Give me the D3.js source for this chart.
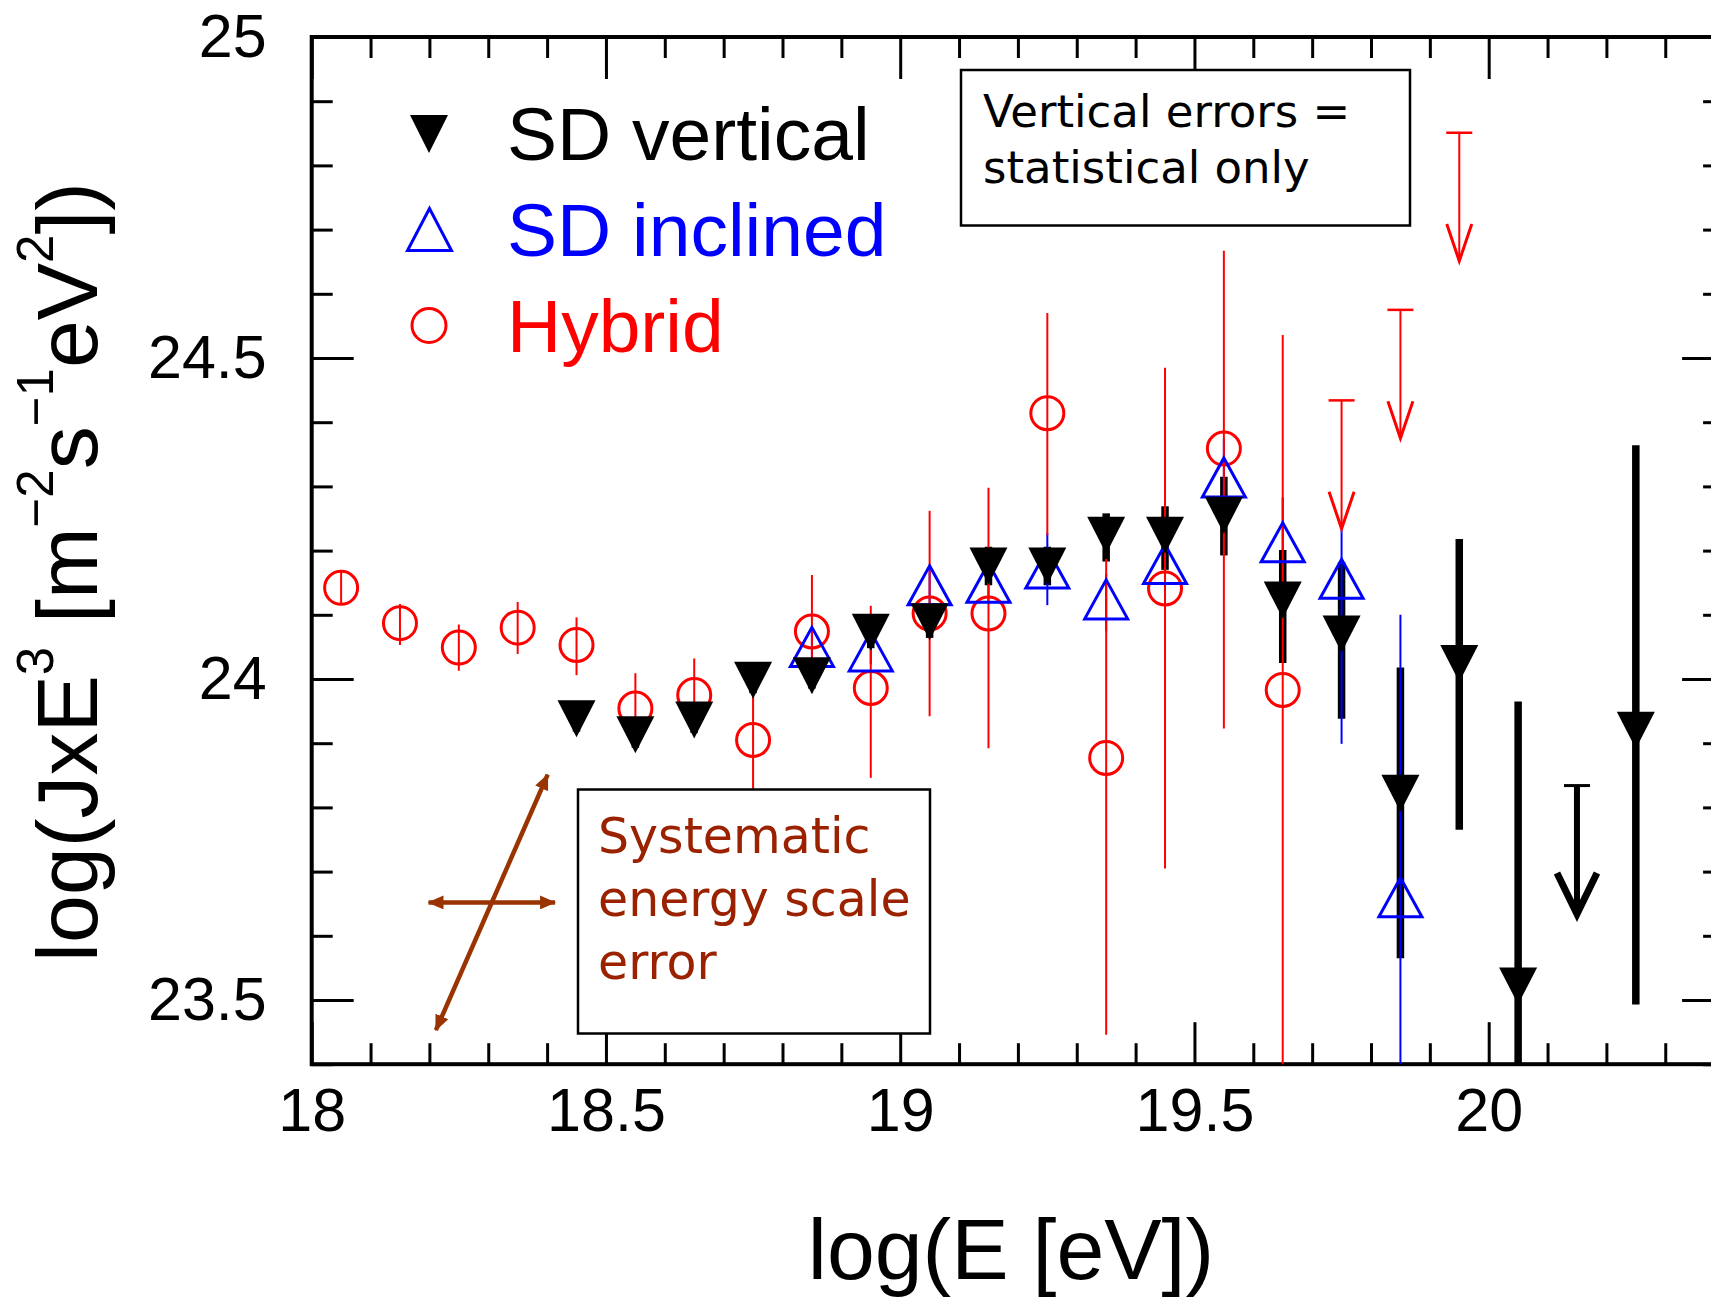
<!DOCTYPE html>
<html>
<head>
<meta charset="utf-8">
<script src="https://cdn.jsdelivr.net/npm/d3@7"></script>
<style>
  html, body { margin: 0; padding: 0; background: #fff; overflow: hidden; }
  svg { display: block; }
</style>
</head>
<body>
<svg id="chart" width="1711" height="1300"></svg>
<script>
// ---- Flux spectrum data: log10(J x E^3) versus log10(E / eV) ----

// SD vertical (filled down triangles, thick black bars)
const sdVertE     = [18.45, 18.55, 18.65, 18.75, 18.85, 18.95, 19.05, 19.15, 19.25, 19.35, 19.45, 19.55, 19.65, 19.75, 19.85, 19.95, 20.05, 20.25];
const sdVertFlux  = [23.938, 23.913, 23.936, 23.998, 24.005, 24.073, 24.089, 24.176, 24.176, 24.224, 24.224, 24.255, 24.123, 24.070, 23.822, 24.024, 23.522, 23.920];
const sdVertErrUp = [0.02, 0.02, 0.02, 0.02, 0.02, 0.025, 0.025, 0.03, 0.03, 0.034, 0.045, 0.06, 0.078, 0.112, 0.196, 0.194, 0.443, 0.444];
const sdVertErrLo = [0.02, 0.02, 0.02, 0.02, 0.02, 0.025, 0.025, 0.03, 0.03, 0.041, 0.054, 0.0625, 0.098, 0.132, 0.257, 0.259, 0.60, 0.427];
const sdVertLimitE    = [20.15];
const sdVertLimitFlux = [23.834];

// SD inclined (open up triangles, thin blue bars)
const sdInclE     = [18.85, 18.95, 19.05, 19.15, 19.25, 19.35, 19.45, 19.55, 19.65, 19.75, 19.85];
const sdInclFlux  = [24.050, 24.043, 24.146, 24.150, 24.172, 24.124, 24.179, 24.314, 24.213, 24.156, 23.660];
const sdInclErrUp = [0.02, 0.02, 0.03, 0.03, 0.055, 0.04, 0.05, 0.06, 0.07, 0.076, 0.44];
const sdInclErrLo = [0.02, 0.02, 0.03, 0.03, 0.057, 0.05, 0.06, 0.07, 0.08, 0.257, 0.60];

// Hybrid (open circles, thin red bars)
const hybE     = [18.05, 18.15, 18.25, 18.35, 18.45, 18.55, 18.65, 18.75, 18.85, 18.95, 19.05, 19.15, 19.25, 19.35, 19.45, 19.55, 19.65];
const hybFlux  = [24.142, 24.087, 24.049, 24.080, 24.053, 23.954, 23.975, 23.905, 24.074, 23.986, 24.102, 24.102, 24.414, 23.877, 24.141, 24.359, 23.983];
const hybErrUp = [0.025, 0.03, 0.036, 0.04, 0.043, 0.055, 0.057, 0.08, 0.088, 0.128, 0.16, 0.196, 0.156, 0.31, 0.344, 0.308, 0.553];
const hybErrLo = [0.025, 0.034, 0.036, 0.041, 0.047, 0.06, 0.06, 0.09, 0.095, 0.14, 0.16, 0.21, 0.19, 0.431, 0.436, 0.436, 0.90];
const hybLimitE    = [19.75, 19.85, 19.95];
const hybLimitFlux = [24.434, 24.575, 24.851];

// Upper-limit arrow length, in log units
const limitArrowLen = 0.2;

// Systematic energy-scale error cross (centre, horizontal half-span, tilted half-span)
const sysCentre = [18.306, 23.652];
const sysHorizHalf = 0.1075;
const sysDiagHalf = [0.095, 0.199];

// Axes
const xDomain = [18, 20.4];
const yDomain = [23.4, 25];
const xMajorTicks = [18, 18.5, 19, 19.5, 20];
const yMajorTicks = [23.5, 24, 24.5, 25];
const xMinorTicks = d3.range(181, 205).map(v => v / 10).filter(v => !xMajorTicks.some(m => Math.abs(m - v) < 1e-9));
const yMinorTicks = d3.range(234, 251).map(v => v / 10).filter(v => !yMajorTicks.some(m => Math.abs(m - v) < 1e-9));

// Legend entries
const legendLabels = ["SD vertical", "SD inclined", "Hybrid"];
const legendColors = ["#000000", "#0000ff", "#ff0000"];

// ---- Drawing ----
const FONT = "'Liberation Sans', Arial, Helvetica, sans-serif";
const HAND = "'Comic Sans MS', 'DejaVu Sans', sans-serif";
const svg = d3.select("#chart");

const x = d3.scaleLinear().domain(xDomain).range([311.7, 1724.1]);
const y = d3.scaleLinear().domain(yDomain).range([1064.2, 37]);
const [x0, x1] = x.range();
const [y1, y0] = y.range();

svg.append("rect").attr("width", 1711).attr("height", 1300).attr("fill", "#fff");

const defs = svg.append("defs");
defs.append("clipPath").attr("id", "plotclip")
  .append("rect").attr("x", x0).attr("y", y0).attr("width", x1 - x0).attr("height", y1 - y0);

// Tick marks (inward), all four sides
function styleAxis(g, withLabels) {
  g.attr("font-family", FONT).attr("font-size", 61);
  g.select(".domain").remove();
  g.selectAll(".tick line").attr("stroke", "#000").attr("stroke-width", 3);
  if (withLabels) g.selectAll(".tick text").attr("fill", "#000");
}
const fmt = d => String(d);

svg.append("g").attr("transform", `translate(0,${y1})`)
  .call(d3.axisBottom(x).tickValues(xMinorTicks).tickSize(-21).tickFormat(""))
  .call(g => styleAxis(g, false));
svg.append("g").attr("transform", `translate(0,${y1})`)
  .call(d3.axisBottom(x).tickValues(xMajorTicks).tickSize(-42).tickSizeOuter(0).tickPadding(24).tickFormat(fmt))
  .call(g => styleAxis(g, true));
svg.append("g").attr("transform", `translate(0,${y0})`)
  .call(d3.axisTop(x).tickValues(xMinorTicks).tickSize(-21).tickFormat(""))
  .call(g => styleAxis(g, false));
svg.append("g").attr("transform", `translate(0,${y0})`)
  .call(d3.axisTop(x).tickValues(xMajorTicks).tickSize(-42).tickFormat(""))
  .call(g => styleAxis(g, false));

svg.append("g").attr("transform", `translate(${x0},0)`)
  .call(d3.axisLeft(y).tickValues(yMinorTicks).tickSize(-21).tickFormat(""))
  .call(g => styleAxis(g, false));
svg.append("g").attr("transform", `translate(${x0},0)`)
  .call(d3.axisLeft(y).tickValues(yMajorTicks).tickSize(-42).tickPadding(45).tickFormat(fmt))
  .call(g => styleAxis(g, true));
svg.append("g").attr("transform", `translate(${x1},0)`)
  .call(d3.axisRight(y).tickValues(yMinorTicks).tickSize(-21).tickFormat(""))
  .call(g => styleAxis(g, false));
svg.append("g").attr("transform", `translate(${x1},0)`)
  .call(d3.axisRight(y).tickValues(yMajorTicks).tickSize(-42).tickFormat(""))
  .call(g => styleAxis(g, false));

// Frame
svg.append("rect").attr("x", x0).attr("y", y0).attr("width", x1 - x0).attr("height", y1 - y0)
  .attr("fill", "none").attr("stroke", "#000").attr("stroke-width", 4);

// Axis titles
svg.append("text")
  .attr("x", 1011).attr("y", 1279)
  .attr("text-anchor", "middle")
  .attr("font-family", FONT).attr("font-size", 86).attr("fill", "#000")
  .text("log(E [eV])");

const yTitle = svg.append("text")
  .attr("transform", "translate(97,962) rotate(-90)")
  .attr("font-family", FONT).attr("font-size", 86).attr("fill", "#000");
const SUP = 51, RISE = 44;
[["log(JxE", false], ["3", true], [" [m", false], ["\u22122", true], ["s", false],
 ["\u22121", true], ["eV", false], ["2", true], ["])", false]].forEach(([t, sup], i, arr) => {
  const prevSup = i > 0 && arr[i - 1][1];
  const ts = yTitle.append("tspan").text(t);
  if (sup) ts.attr("font-size", SUP).attr("dy", -RISE);
  else if (prevSup) ts.attr("dy", RISE);
});

// Data layer
const plot = svg.append("g").attr("clip-path", "url(#plotclip)");

function rows(E, F, up, lo) {
  return E.map((e, i) => ({ e, f: F[i], up: up[i], lo: lo[i] }));
}
const sdVert = rows(sdVertE, sdVertFlux, sdVertErrUp, sdVertErrLo);
const sdIncl = rows(sdInclE, sdInclFlux, sdInclErrUp, sdInclErrLo);
const hyb = rows(hybE, hybFlux, hybErrUp, hybErrLo);

function errorBars(data, color, width) {
  plot.append("g").selectAll("line").data(data).join("line")
    .attr("x1", d => x(d.e)).attr("x2", d => x(d.e))
    .attr("y1", d => y(d.f + d.up)).attr("y2", d => y(d.f - d.lo))
    .attr("stroke", color).attr("stroke-width", width);
}
errorBars(sdVert, "#000", 7.5);
errorBars(sdIncl, "#0000ff", 2);
errorBars(hyb, "#ff0000", 2);

// Marker shapes
const triDown = (w, h) => `M${-w / 2},${-h / 2}L${w / 2},${-h / 2}L0,${h / 2}Z`;
const triUp = (w, h) => `M0,${-h / 2}L${w / 2},${h / 2}L${-w / 2},${h / 2}Z`;

plot.append("g").selectAll("circle").data(hyb).join("circle")
  .attr("cx", d => x(d.e)).attr("cy", d => y(d.f)).attr("r", 16.5)
  .attr("fill", "none").attr("stroke", "#ff0000").attr("stroke-width", 3);

plot.append("g").selectAll("path").data(sdIncl).join("path")
  .attr("transform", d => `translate(${x(d.e)},${y(d.f)})`)
  .attr("d", triUp(43, 39))
  .attr("fill", "none").attr("stroke", "#0000ff").attr("stroke-width", 3).attr("stroke-linejoin", "miter");

plot.append("g").selectAll("path").data(sdVert).join("path")
  .attr("transform", d => `translate(${x(d.e)},${y(d.f)})`)
  .attr("d", triDown(38, 37))
  .attr("fill", "#000");

// Upper limits: cap at the limit, arrow pointing down
function upperLimits(E, F, color, lw, capW, capLw, headHalf, headLen) {
  const g = plot.append("g").attr("stroke", color).attr("fill", "none");
  E.forEach((e, i) => {
    const cx = x(e), top = y(F[i]), tip = y(F[i] - limitArrowLen);
    g.append("line").attr("x1", cx).attr("x2", cx).attr("y1", top).attr("y2", tip).attr("stroke-width", lw);
    g.append("line").attr("x1", cx - capW / 2).attr("x2", cx + capW / 2).attr("y1", top).attr("y2", top).attr("stroke-width", capLw);
    g.append("path").attr("d", `M${cx - headHalf},${tip - headLen}L${cx},${tip}L${cx + headHalf},${tip - headLen}`)
      .attr("stroke-width", lw + 1).attr("stroke-linejoin", "miter");
  });
}
upperLimits(hybLimitE, hybLimitFlux, "#ff0000", 2, 26, 2.5, 12.5, 37);
upperLimits(sdVertLimitE, sdVertLimitFlux, "#000", 6, 26, 3, 20, 41);

// Systematic energy-scale error cross
const SYS_COLOR = "#993300";
defs.append("marker").attr("id", "sysHead")
  .attr("viewBox", "0 0 16 14").attr("refX", 15).attr("refY", 7)
  .attr("markerWidth", 16).attr("markerHeight", 14).attr("markerUnits", "userSpaceOnUse")
  .attr("orient", "auto-start-reverse")
  .append("path").attr("d", "M0,0L16,7L0,14Z").attr("fill", SYS_COLOR);
const sysG = svg.append("g").attr("stroke", SYS_COLOR).attr("stroke-width", 4.5).attr("fill", "none");
sysG.append("line")
  .attr("x1", x(sysCentre[0] - sysHorizHalf)).attr("y1", y(sysCentre[1]))
  .attr("x2", x(sysCentre[0] + sysHorizHalf)).attr("y2", y(sysCentre[1]))
  .attr("marker-start", "url(#sysHead)").attr("marker-end", "url(#sysHead)");
sysG.append("line")
  .attr("x1", x(sysCentre[0] - sysDiagHalf[0])).attr("y1", y(sysCentre[1] - sysDiagHalf[1]))
  .attr("x2", x(sysCentre[0] + sysDiagHalf[0])).attr("y2", y(sysCentre[1] + sysDiagHalf[1]))
  .attr("marker-start", "url(#sysHead)").attr("marker-end", "url(#sysHead)");

// Annotation boxes
const note1 = svg.append("g");
note1.append("rect").attr("x", 961).attr("y", 70).attr("width", 449).attr("height", 155.5)
  .attr("fill", "#fff").attr("stroke", "#000").attr("stroke-width", 2.5);
["Vertical errors =", "statistical only"].forEach((t, i) => {
  note1.append("text").attr("x", 983).attr("y", 127 + i * 56)
    .attr("font-family", HAND).attr("font-size", 45).attr("fill", "#000").text(t);
});

const note2 = svg.append("g");
note2.append("rect").attr("x", 578).attr("y", 789.5).attr("width", 352).attr("height", 244)
  .attr("fill", "#fff").attr("stroke", "#000").attr("stroke-width", 2.5);
["Systematic", "energy scale", "error"].forEach((t, i) => {
  note2.append("text").attr("x", 598).attr("y", 853 + i * 63)
    .attr("font-family", HAND).attr("font-size", 49).attr("fill", "#9a2200").text(t);
});

// Legend
const legend = svg.append("g");
const legendY = [134, 229.5, 325.5];
legend.append("path").attr("transform", `translate(429,${legendY[0]})`).attr("d", triDown(38, 38)).attr("fill", "#000");
legend.append("path").attr("transform", `translate(429.5,${legendY[1]})`).attr("d", triUp(44, 42))
  .attr("fill", "none").attr("stroke", "#0000ff").attr("stroke-width", 3);
legend.append("circle").attr("cx", 429).attr("cy", legendY[2]).attr("r", 17)
  .attr("fill", "none").attr("stroke", "#ff0000").attr("stroke-width", 3);
legendLabels.forEach((t, i) => {
  legend.append("text").attr("x", 507).attr("y", 160 + i * 96)
    .attr("font-family", FONT).attr("font-size", 75).attr("fill", legendColors[i]).text(t);
});
</script>
</body>
</html>
